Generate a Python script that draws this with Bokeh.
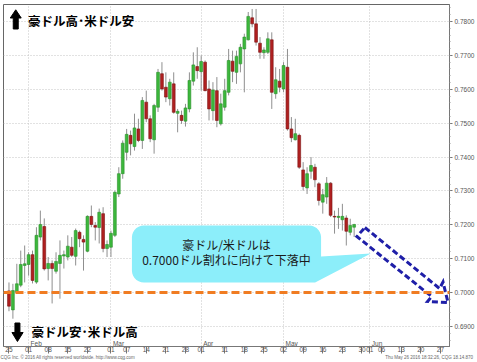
import numpy as np
from bokeh.plotting import figure
from bokeh.models import ColumnDataSource, FixedTicker, Range1d, Span, LinearAxis, NumeralTickFormatter
from bokeh.core.properties import value
from bokeh.embed import file_html
from bokeh.resources import INLINE

# ---------------- data (AUD/USD daily, 2016-01-25 .. 2016-05-26) ----------------
OPEN = [0.7005, 0.6949, 0.7001, 0.7022, 0.7080, 0.7083, 0.7112, 0.7031, 0.7164, 0.7195,
        0.7071, 0.7086, 0.7063, 0.7086, 0.7108, 0.7105, 0.7134, 0.7107, 0.7178, 0.7157,
        0.7122, 0.7225, 0.7198, 0.7192, 0.7233, 0.7130, 0.7134, 0.7169, 0.7291, 0.7351,
        0.7414, 0.7464, 0.7431, 0.7483, 0.7449, 0.7562, 0.7513, 0.7451, 0.7547, 0.7646,
        0.7606, 0.7572, 0.7616, 0.7529, 0.7523, 0.7506, 0.7542, 0.7624, 0.7667, 0.7652,
        0.7680, 0.7601, 0.7537, 0.7596, 0.7498, 0.7547, 0.7591, 0.7683, 0.7650, 0.7675,
        0.7719, 0.7746, 0.7811, 0.7793, 0.7736, 0.7708, 0.7709, 0.7746, 0.7587, 0.7624,
        0.7601, 0.7665, 0.7483, 0.7451, 0.7464, 0.7362, 0.7309, 0.7358, 0.7370, 0.7321,
        0.7267, 0.7282, 0.7323, 0.7225, 0.7222, 0.7215, 0.7220, 0.7178, 0.7193]
HIGH = [0.7030, 0.7026, 0.7085, 0.7124, 0.7139, 0.7119, 0.7124, 0.7193, 0.7242, 0.7219,
        0.7105, 0.7095, 0.7119, 0.7154, 0.7124, 0.7169, 0.7164, 0.7189, 0.7183, 0.7169,
        0.7228, 0.7257, 0.7208, 0.7248, 0.7252, 0.7154, 0.7183, 0.7301, 0.7370, 0.7449,
        0.7483, 0.7478, 0.7528, 0.7513, 0.7577, 0.7596, 0.7523, 0.7557, 0.7660, 0.7680,
        0.7650, 0.7631, 0.7650, 0.7542, 0.7537, 0.7557, 0.7650, 0.7709, 0.7724, 0.7700,
        0.7685, 0.7626, 0.7621, 0.7636, 0.7587, 0.7631, 0.7719, 0.7714, 0.7714, 0.7734,
        0.7764, 0.7828, 0.7837, 0.7837, 0.7754, 0.7724, 0.7768, 0.7768, 0.7665, 0.7660,
        0.7680, 0.7719, 0.7518, 0.7513, 0.7469, 0.7385, 0.7370, 0.7400, 0.7380, 0.7326,
        0.7306, 0.7341, 0.7326, 0.7242, 0.7250, 0.7262, 0.7228, 0.7218, 0.7203]
LOW = [0.6945, 0.6923, 0.6998, 0.7016, 0.7030, 0.7050, 0.7027, 0.7026, 0.7154, 0.7065,
       0.7036, 0.6968, 0.7056, 0.6982, 0.7071, 0.7095, 0.7105, 0.7080, 0.7134, 0.7065,
       0.7119, 0.7193, 0.7154, 0.7145, 0.7119, 0.7105, 0.7105, 0.7164, 0.7282, 0.7336,
       0.7390, 0.7405, 0.7419, 0.7444, 0.7424, 0.7503, 0.7444, 0.7410, 0.7533, 0.7596,
       0.7562, 0.7552, 0.7528, 0.7473, 0.7498, 0.7490, 0.7532, 0.7611, 0.7631, 0.7596,
       0.7594, 0.7508, 0.7508, 0.7488, 0.7493, 0.7537, 0.7582, 0.7621, 0.7616, 0.7650,
       0.7591, 0.7744, 0.7783, 0.7729, 0.7690, 0.7690, 0.7704, 0.7542, 0.7572, 0.7591,
       0.7591, 0.7478, 0.7444, 0.7449, 0.7365, 0.7301, 0.7291, 0.7336, 0.7311, 0.7257,
       0.7233, 0.7262, 0.7223, 0.7174, 0.7188, 0.7183, 0.7139, 0.7169, 0.7164]
CLOSE = [0.6960, 0.7006, 0.7026, 0.7083, 0.7085, 0.7112, 0.7036, 0.7169, 0.7201, 0.7070,
         0.7086, 0.7071, 0.7092, 0.7110, 0.7112, 0.7137, 0.7110, 0.7183, 0.7159, 0.7149,
         0.7225, 0.7201, 0.7193, 0.7237, 0.7130, 0.7142, 0.7175, 0.7296, 0.7351, 0.7441,
         0.7467, 0.7439, 0.7486, 0.7449, 0.7567, 0.7513, 0.7454, 0.7552, 0.7650, 0.7601,
         0.7577, 0.7621, 0.7532, 0.7535, 0.7508, 0.7545, 0.7626, 0.7672, 0.7655, 0.7682,
         0.7596, 0.7542, 0.7598, 0.7508, 0.7557, 0.7596, 0.7685, 0.7653, 0.7697, 0.7724,
         0.7754, 0.7815, 0.7793, 0.7739, 0.7709, 0.7716, 0.7749, 0.7591, 0.7628, 0.7606,
         0.7670, 0.7483, 0.7457, 0.7469, 0.7370, 0.7313, 0.7351, 0.7375, 0.7333, 0.7272,
         0.7289, 0.7323, 0.7228, 0.7223, 0.7225, 0.7225, 0.7181, 0.7198, 0.7201]

# trading-day positions of the axis labels (0 = 2016-01-25)
DAY_TICKS = [0, 5, 10, 15, 20, 26, 30, 35, 40, 45, 49, 55, 60, 65, 70, 75, 80, 85, 90, 92, 95, 100, 105, 110]
DAY_LABELS = ["25", "01", "08", "15", "22", "01", "07", "14", "21", "28", "01", "11",
              "18", "25", "02", "09", "16", "23", "30", "01", "06", "13", "20", "27"]
MONTH_POS = [5, 26, 49, 70, 92]
MONTH_NAMES = ["Feb", "Mar", "Apr", "May", "Jun"]
PRICE_TICKS = [0.69, 0.70, 0.71, 0.72, 0.73, 0.74, 0.75, 0.76, 0.77, 0.78]
TARGET = 0.7000
FOOTER_LEFT = "CQG Inc. © 2016 All rights reserved worldwide. http://www.cqg.com"
FOOTER_RIGHT = "Thu May 26 2016 18:32:26, CQG 18.14.870"

# ---------------- layout ----------------
W, H = 477, 362
FL, FT, FW, FH = 3, 4, 448, 342
X0, X1 = -1.396, 112.31
Y0, Y1 = 0.684098, 0.785016


def dx(px):
    return X0 + (px - FL) / FW * (X1 - X0)


def dy(py):
    return Y1 - (py - FT) / FH * (Y1 - Y0)


p = figure(width=W, height=H, x_range=Range1d(X0, X1), y_range=Range1d(Y0, Y1),
           output_backend="svg", toolbar_location=None, y_axis_location="right",
           min_border_left=FL, min_border_top=FT, min_border_right=W - FL - FW,
           min_border_bottom=H - FT - FH)
p.outline_line_color = "#666666"
p.background_fill_color = "white"
p.border_fill_color = "white"

# grid
p.ygrid.ticker = FixedTicker(ticks=PRICE_TICKS)
p.ygrid.grid_line_color = "#c4c4c4"
p.ygrid.grid_line_dash = "1 2"
p.xgrid.ticker = FixedTicker(ticks=MONTH_POS)
p.xgrid.grid_line_color = "#c4c4c4"
p.xgrid.grid_line_dash = "1 2"

# y axis (right)
ya = p.yaxis[0]
ya.ticker = FixedTicker(ticks=PRICE_TICKS, minor_ticks=list(np.round(np.arange(0.684, 0.786, 0.002), 4)))
ya.formatter = NumeralTickFormatter(format="0.0000")
ya.major_label_text_font = "Liberation Sans"
ya.major_label_text_font_size = "6.5px"
ya.major_label_text_color = "#555555"
ya.axis_line_color = "#777777"
ya.major_tick_line_color = "#777777"
ya.minor_tick_line_color = "#999999"
ya.major_tick_out = 3
ya.major_tick_in = 0
ya.minor_tick_out = 1
ya.minor_tick_in = 0
ya.major_label_standoff = 2

# x axis (bottom)
xa = p.xaxis[0]
xa.ticker = FixedTicker(ticks=DAY_TICKS)
xa.major_label_overrides = {t: s for t, s in zip(DAY_TICKS, DAY_LABELS)}
xa.major_label_text_align = "left"
xa.major_label_text_font = "Liberation Sans"
xa.major_label_text_font_size = "6.5px"
xa.major_label_text_color = "#555555"
xa.axis_line_color = "#777777"
xa.major_tick_line_color = "#777777"
xa.major_tick_out = 7
xa.major_tick_in = 0
xa.minor_tick_line_color = None
xa.major_label_standoff = -7

# footer line: a bare axis whose two labels carry the copyright / timestamp
f_left, f_right = round(dx(60), 2), round(dx(430.5), 2)
fa = LinearAxis(ticker=FixedTicker(ticks=[f_left, f_right]),
                major_label_overrides={f_left: FOOTER_LEFT, f_right: FOOTER_RIGHT},
                axis_line_color=None, major_tick_line_color=None, minor_tick_line_color=None,
                major_tick_out=0, major_tick_in=0, major_label_standoff=0,
                major_label_text_font="Liberation Sans", major_label_text_font_size="4.5px",
                major_label_text_color="#666666")
p.add_layout(fa, "below")

# month names just above the axis line
p.text(x=MONTH_POS, y=[Y0] * len(MONTH_POS), text=MONTH_NAMES, text_align="left",
       text_baseline="bottom", x_offset=2, y_offset=0, text_font=value("Liberation Sans"),
       text_font_size="6.5px", text_color="#555555")

# target level
p.add_layout(Span(location=TARGET, dimension="width", line_color="#f07c22",
                  line_width=3, line_dash="8 4"))

# candles
idx = list(range(len(OPEN)))
up = [c >= o for o, c in zip(OPEN, CLOSE)]
src = ColumnDataSource(dict(
    x=idx, high=HIGH, low=LOW,
    top=[max(o, c) for o, c in zip(OPEN, CLOSE)],
    bottom=[min(o, c) for o, c in zip(OPEN, CLOSE)],
    fill=["#3cb83c" if u else "#b02020" for u in up],
    line=["#2b8f2b" if u else "#7a1212" for u in up],
))
p.segment(x0="x", y0="low", x1="x", y1="high", source=src, line_color="#8f8f8f", line_width=1)
p.vbar(x="x", width=0.72, top="top", bottom="bottom", source=src,
       fill_color="fill", line_color="line", line_width=0.6)

# big arrows + captions
up_arrow = [(15.3, 9.3), (20.8, 17.5), (17.8, 17.5), (17.8, 28.5), (12.8, 28.5), (12.8, 17.5), (9.8, 17.5)]
dn_arrow = [(14.5, 322.5), (19.5, 322.5), (19.5, 332.0), (22.7, 332.0), (17.0, 341.0), (11.5, 332.0), (14.5, 332.0)]
for shape in (up_arrow, dn_arrow):
    p.patch([dx(a) for a, b in shape], [dy(b) for a, b in shape], fill_color="black", line_color="black")

cjk = value("Noto Sans CJK JP")
p.text(x=[dx(27.5)], y=[dy(20)], text=["豪ドル高･米ドル安"], text_font=cjk, text_font_size="12.5px",
       text_font_style="bold", text_baseline="middle", text_align="left", text_color="black")
p.text(x=[dx(31)], y=[dy(331)], text=["豪ドル安･米ドル高"], text_font=cjk, text_font_size="12.5px",
       text_font_style="bold", text_baseline="middle", text_align="left", text_color="black")

# callout bubble
bl, br, bt, bb, r = 132.0, 322.0, 225.0, 282.0, 12.0
pts = []
def arc(cx, cy, a0, a1):
    for a in np.linspace(a0, a1, 8):
        pts.append((cx + r * np.cos(a), cy + r * np.sin(a)))
arc(bl + r, bt + r, np.pi, 1.5 * np.pi)          # top-left
arc(br - r, bt + r, 1.5 * np.pi, 2 * np.pi)      # top-right
pts += [(br, 256.0), (372.0, 253.0), (316.0, bb)]  # pointer
arc(bl + r, bb - r, 0.5 * np.pi, np.pi)          # bottom-left
p.patch([dx(a) for a, b in pts], [dy(b) for a, b in pts], fill_color="#8ceefa", line_color=None)
p.text(x=[dx(227), dx(227)], y=[dy(243.5), dy(258.5)],
       text=["豪ドル/米ドルは", "0.7000ドル割れに向けて下落中"], text_font=cjk,
       text_font_size="12px", text_align="center", text_baseline="middle", text_color="#1a1a1a")

# dashed blue block arrow
barrow = [(366, 227), (441, 288), (444.5, 281.5), (449.5, 302), (429, 301), (433, 296), (358, 236), (366, 227)]
p.line([dx(a) for a, b in barrow], [dy(b) for a, b in barrow], line_color="#1f1fa8",
       line_width=3, line_dash="6 3", line_join="miter")

open("out.html", "w").write(file_html(p, INLINE))
